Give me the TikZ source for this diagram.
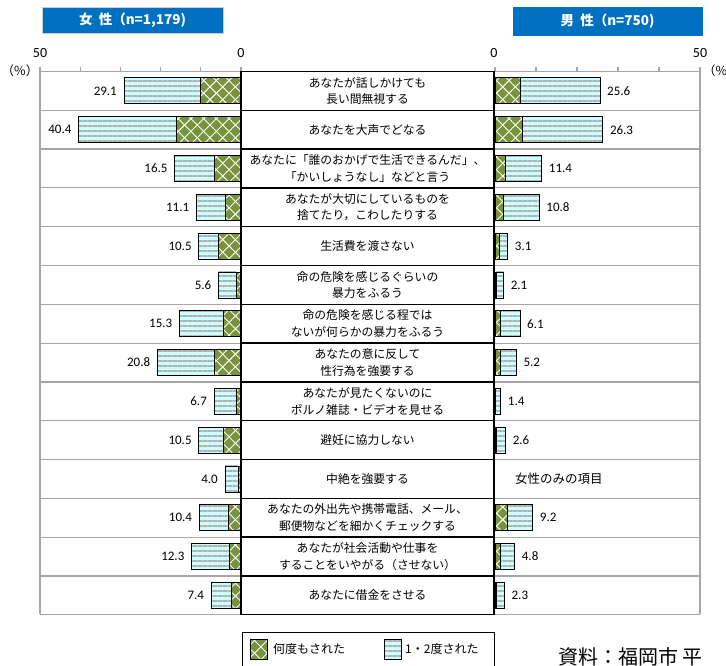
\documentclass[tikz,border=0pt]{standalone}
\usepackage{fontspec}
\setmainfont{Noto Sans CJK JP}
\newfontfamily\numfont{Carlito}
\usetikzlibrary{patterns.meta}
\definecolor{hdrblue}{HTML}{0070C0}
\definecolor{barolive}{HTML}{77933C}
\definecolor{barcyan}{HTML}{CCFFFF}
\definecolor{gridgray}{HTML}{A6A6A6}

\begin{document}
\begin{tikzpicture}[x=1pt,y=-1pt,
  hatchA/.style={pattern={Lines[angle=45,distance=9pt,line width=0.9pt]},pattern color=white},
  hatchB/.style={pattern={Lines[angle=-45,distance=9pt,line width=0.9pt]},pattern color=white},
  stripes/.style={pattern={Lines[angle=0,distance=5pt,line width=1.1pt]},pattern color=gray!60},
  barline/.style={draw=black,line width=0.8pt},
  gridline/.style={draw=gridgray,line width=1.2pt},
  lbl/.style={draw,line width=1.5pt,minimum width=253pt,minimum height=38.8pt,inner sep=0pt,
    align=center,font=\fontsize{11.8}{16.5}\selectfont},
  val/.style={font=\numfont\fontsize{13}{15}\selectfont,inner sep=0pt},
  hdr/.style={fill=hdrblue,text=white,font=\bfseries\fontsize{13.5}{15}\selectfont,inner sep=0pt}]
\useasboundingbox (0,0) rectangle (726,666);

% headers
\node[hdr,draw=gray!40,minimum width=181pt,minimum height=26pt] (fhead) at (132.5,20) {女\ \ 性（n=1,179)};
\node[hdr,minimum width=190pt,minimum height=29pt] (mhead) at (607.5,21.5) {男\ \ 性（n=750)};

% axes
\node[val,font=\numfont\fontsize{14}{16}\selectfont] (f50) at (40,53) {50};
\node[val,font=\numfont\fontsize{14}{16}\selectfont] (f0) at (241,53) {0};
\node[val,font=\numfont\fontsize{14}{16}\selectfont] (m0) at (494,53) {0};
\node[val,font=\numfont\fontsize{14}{16}\selectfont] (m50) at (700,53) {50};
\node[font=\fontsize{12.5}{14}\selectfont,inner sep=0pt] (fpct) at (20,71) {（\%）};
\node[font=\fontsize{12.5}{14}\selectfont,inner sep=0pt,anchor=west] (mpct) at (703,71) {（\%）};

\draw[gridline] (40,71.5) -- (241,71.5) (40,71.5) -- (40,614);
\draw[gridline] (495,71.5) -- (700,71.5) (700,71.5) -- (700,614);
\foreach \t in {0,10,...,50} {
  \draw[gridline] (241-4.02*\t,71.5) -- ++(0,-4);
  \draw[gridline] (495+4.1*\t,71.5) -- ++(0,-4);
}
\foreach \k in {1,...,14} {
  \draw[gridline] (40,71.5+38.8*\k) -- (241,71.5+38.8*\k);
  \draw[gridline] (495,71.5+38.8*\k) -- (700,71.5+38.8*\k);
}

% rows
\foreach \i/\fl/\fd/\ml/\md/\txt in {
  1/29.1/10.1/25.6/6.1/{あなたが話しかけても\\長い間無視する},
  2/40.4/16.1/26.3/6.7/{あなたを大声でどなる},
  3/16.5/6.5/11.4/2.6/{あなたに「誰のおかげで生活できるんだ」、\\「かいしょうなし」などと言う},
  4/11.1/3.9/10.8/2.0/{あなたが大切にしているものを\\捨てたり，こわしたりする},
  5/10.5/5.7/3.1/1.1/{生活費を渡さない},
  6/5.6/1.2/2.1/0.3/{命の危険を感じるぐらいの\\暴力をふるう},
  7/15.3/4.4/6.1/1.4/{命の危険を感じる程では\\ないが何らかの暴力をふるう},
  8/20.8/6.5/5.2/1.2/{あなたの意に反して\\性行為を強要する},
  9/6.7/1.2/1.4/0.2/{あなたが見たくないのに\\ポルノ雑誌・ビデオを見せる},
  10/10.5/4.5/2.6/0.3/{避妊に協力しない},
  11/4.0/0.7/0/0/{中絶を強要する},
  12/10.4/3.2/9.2/3.0/{あなたの外出先や携帯電話、メール、\\郵便物などを細かくチェックする},
  13/12.3/3.0/4.8/1.3/{あなたが社会活動や仕事を\\することをいやがる（させない）},
  14/7.4/2.5/2.3/0.4/{あなたに借金をさせる}} {
  \pgfmathsetmacro\y{71.5+(\i-0.5)*38.8}
  \pgfmathsetmacro\yt{\y-13}
  \pgfmathsetmacro\yb{\y+13}
  \pgfmathsetmacro\xa{241-4.02*\fl}
  \pgfmathsetmacro\xb{241-4.02*\fd}
  % women
  \fill[barcyan] (\xa,\yt) rectangle (\xb,\yb);
  \fill[stripes] (\xa,\yt) rectangle (\xb,\yb);
  \fill[barolive] (\xb,\yt) rectangle (241,\yb);
  \fill[hatchA] (\xb,\yt) rectangle (241,\yb);
  \fill[hatchB] (\xb,\yt) rectangle (241,\yb);
  \draw[barline] (\xa,\yt) rectangle (\xb,\yb) (\xb,\yt) rectangle (241,\yb);
  \node[val,anchor=east] (fv\i) at (\xa-7,\y) {\fl};
  % men
  \ifnum\i=11
    \node[font=\fontsize{12.5}{14}\selectfont,inner sep=0pt,anchor=west] (mv\i) at (515,\y) {女性のみの項目};
  \else
    \pgfmathsetmacro\xc{495+4.1*\md}
    \pgfmathsetmacro\xd{495+4.1*\ml}
    \fill[barolive] (495,\yt) rectangle (\xc,\yb);
    \fill[hatchA] (495,\yt) rectangle (\xc,\yb);
    \fill[hatchB] (495,\yt) rectangle (\xc,\yb);
    \fill[barcyan] (\xc,\yt) rectangle (\xd,\yb);
    \fill[stripes] (\xc,\yt) rectangle (\xd,\yb);
    \draw[barline] (495,\yt) rectangle (\xc,\yb) (\xc,\yt) rectangle (\xd,\yb);
    \node[val,anchor=west] (mv\i) at (\xd+7,\y) {\ml};
  \fi
  \node[lbl] (c\i) at (367.5,\y) {\txt};
}

% legend
\draw[line width=0.8pt] (242,632) rectangle (494,672);
\fill[barolive] (250,639) rectangle (267,659);
\fill[hatchA] (250,639) rectangle (267,659);
\fill[hatchB] (250,639) rectangle (267,659);
\draw[barline] (250,639) rectangle (267,659);
\node[font=\fontsize{12}{14}\selectfont,inner sep=0pt,anchor=west] (lg1) at (273,649) {何度もされた};
\fill[barcyan] (384,639) rectangle (401,659);
\fill[stripes] (384,639) rectangle (401,659);
\draw[barline] (384,639) rectangle (401,659);
\node[font=\fontsize{12}{14}\selectfont,inner sep=0pt,anchor=west] (lg2) at (405,649) {1・2度された};
\node[font=\fontsize{20}{22}\selectfont,inner sep=0pt,anchor=west] (src) at (558,657) {資料：福岡市\ 平};
\end{tikzpicture}
\end{document}
